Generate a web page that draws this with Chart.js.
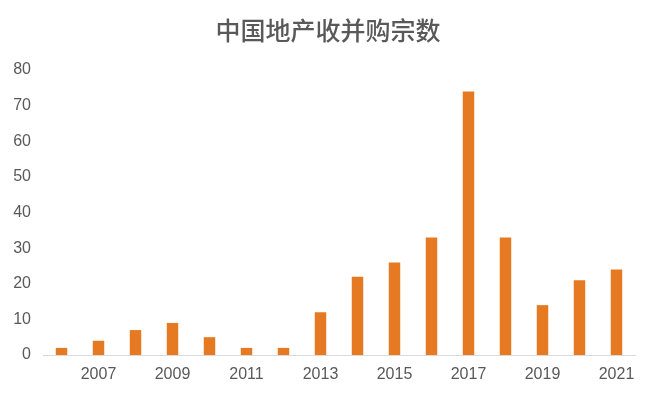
<!DOCTYPE html>
<html>
<head>
<meta charset="utf-8">
<script src="https://cdn.jsdelivr.net/npm/chart.js@4/dist/chart.umd.min.js"></script>
<style>
html,body{margin:0;padding:0;background:#fff;}
#wrap{width:656px;height:393px;}
</style>
</head>
<body>
<div id="wrap"><canvas id="c" width="656" height="393"></canvas></div>
<script>
const years = ['2006','2007','2008','2009','2010','2011','2012','2013','2014','2015','2016','2017','2018','2019','2020','2021'];
const deals = [2,4,7,9,5,2,2,12,22,26,33,74,33,14,21,24];
const yTicks = [0,10,20,30,40,50,60,70,80];
const titleText = '中国地产收并购宗数';

const textColor = '#595959';
new Chart(document.getElementById('c'), {
  type: 'bar',
  data: {
    labels: years,
    datasets: [{
      label: titleText,
      data: deals,
      backgroundColor: '#E67A22',
      borderWidth: 0,
      categoryPercentage: 1,
      barPercentage: 0.31,
      yAxisID: 'y'
    }]
  },
  options: {
    responsive: false,
    animation: false,
    layout: { padding: { left: 0, right: 0, top: 0, bottom: 0 } },
    plugins: {
      legend: { display: false },
      tooltip: { enabled: false },
      title: {
        display: true,
        text: titleText,
        color: textColor,
        font: { family: "'Noto Sans CJK SC', sans-serif", size: 25, weight: '500' },
        padding: { top: 15, bottom: 25 }
      }
    },
    scales: {
      x: {
        grid: { display: false, drawTicks: false },
        border: { display: true, color: '#d9d9d9', width: 1 },
        ticks: {
          color: textColor,
          font: { family: "'Liberation Sans', Arial, sans-serif", size: 16 },
          autoSkip: false,
          maxRotation: 0,
          padding: 10,
          callback: function(v, i) { return i % 2 === 1 ? years[i] : ''; }
        },
        afterFit: function(s) { s.height = 38; }
      },
      y: {
        min: yTicks[0],
        max: yTicks[yTicks.length - 1],
        grid: { display: false, drawTicks: false },
        border: { display: false },
        afterBuildTicks: function(s) { s.ticks = yTicks.map(v => ({ value: v })); },
        ticks: {
          color: textColor,
          font: { family: "'Liberation Sans', Arial, sans-serif", size: 16 },
          padding: 12
        },
        afterFit: function(s) { s.width = 43; }
      },
      yRight: {
        position: 'right',
        min: 0,
        max: 80,
        grid: { display: false, drawTicks: false },
        border: { display: false },
        ticks: { display: false },
        afterFit: function(s) { s.width = 21; }
      }
    }
  }
});
</script>
</body>
</html>
